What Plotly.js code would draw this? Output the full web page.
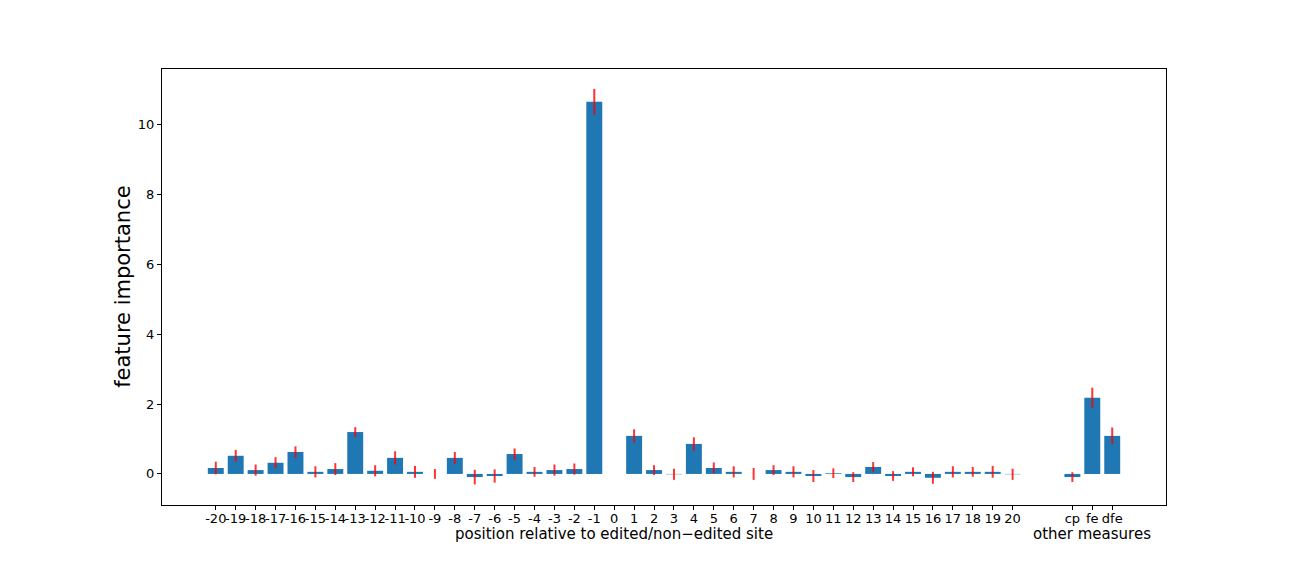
<!DOCTYPE html>
<html>
<head>
<meta charset="utf-8">
<script src="https://cdn.plot.ly/plotly-3.0.1.min.js"></script>
<style>html,body{margin:0;padding:0;background:#fff}#chart{width:1296px;height:576px}</style>
</head>
<body>
<div id="chart"></div>
<script>
// Position features (-20 .. 20)
const positionLabels = ["-20","-19","-18","-17","-16","-15","-14","-13","-12","-11","-10","-9","-8","-7","-6","-5","-4","-3","-2","-1","0","1","2","3","4","5","6","7","8","9","10","11","12","13","14","15","16","17","18","19","20"];
const positionValues = [0.17,0.52,0.11,0.32,0.63,0.06,0.14,1.20,0.09,0.46,0.06,0.0,0.46,-0.09,-0.06,0.57,0.06,0.11,0.14,10.66,0.0,1.09,0.11,-0.01,0.86,0.17,0.06,0.0,0.11,0.06,-0.06,0.02,-0.09,0.20,-0.06,0.06,-0.11,0.06,0.06,0.06,-0.01];
const positionErrors = [0.18,0.17,0.16,0.16,0.16,0.16,0.17,0.14,0.16,0.19,0.17,0.14,0.17,0.21,0.19,0.16,0.14,0.16,0.16,0.37,0.0,0.19,0.14,0.16,0.19,0.16,0.16,0.17,0.14,0.16,0.17,0.14,0.14,0.14,0.14,0.13,0.17,0.16,0.14,0.17,0.16];
// Other measures
const otherLabels = ["cp","fe","dfe"];
const otherValues = [-0.09,2.18,1.09];
const otherErrors = [0.14,0.29,0.24];

const posX = positionLabels.map((_, i) => i);
const otherX = otherLabels.map((_, i) => positionLabels.length + 2 + i);

const errStyle = (arr) => ({type:'data', array:arr, visible:true, color:'rgba(255,0,0,0.8)', thickness:2, width:0});

const traces = [
  {type:'bar', x:posX, y:positionValues, width:0.8, marker:{color:'#1f77b4'}, error_y:errStyle(positionErrors), hoverinfo:'y'},
  {type:'bar', x:otherX, y:otherValues, width:0.8, marker:{color:'#1f77b4'}, error_y:errStyle(otherErrors), hoverinfo:'y'}
];

const font = {family:'DejaVu Sans, sans-serif', color:'#000'};
const layout = {
  width:1296, height:576,
  margin:{l:162, r:130, t:69, b:71},
  paper_bgcolor:'#fff', plot_bgcolor:'#fff',
  showlegend:false,
  font:{family:font.family, size:13, color:'#000'},
  xaxis:{
    range:[-2.7, 47.7],
    tickmode:'array',
    tickvals: posX.concat(otherX),
    ticktext: positionLabels.concat(otherLabels),
    tickangle:0,
    ticks:'outside', ticklen:4, tickcolor:'#000', tickwidth:1,
    ticklabelstandoff:-3,
    tickfont:{family:font.family, size:13, color:'#000'},
    showgrid:false, zeroline:false,
    showline:true, linecolor:'#000', linewidth:1, mirror:true
  },
  yaxis:{
    range:[-0.89, 11.6],
    tickvals:[0,2,4,6,8,10],
    ticks:'outside', ticklen:4, tickcolor:'#000', tickwidth:1,
    tickfont:{family:font.family, size:13, color:'#000'},
    showgrid:false, zeroline:false,
    showline:true, linecolor:'#000', linewidth:1, mirror:true
  },
  annotations:[
    {text:'position relative to edited/non\u2212edited site', xref:'x', yref:'paper', x:20, y:-0.066, xanchor:'center', yanchor:'middle', showarrow:false, font:{family:font.family, size:15, color:'#000'}},
    {text:'other measures', xref:'x', yref:'paper', x:otherX[1], y:-0.066, xanchor:'center', yanchor:'middle', showarrow:false, font:{family:font.family, size:15, color:'#000'}},
    {text:'feature importance', xref:'paper', yref:'paper', x:-0.039, y:0.5, xanchor:'center', yanchor:'middle', textangle:-90, showarrow:false, font:{family:font.family, size:21, color:'#000'}}
  ]
};

Plotly.newPlot('chart', traces, layout, {displayModeBar:false, staticPlot:true});
</script>
</body>
</html>
